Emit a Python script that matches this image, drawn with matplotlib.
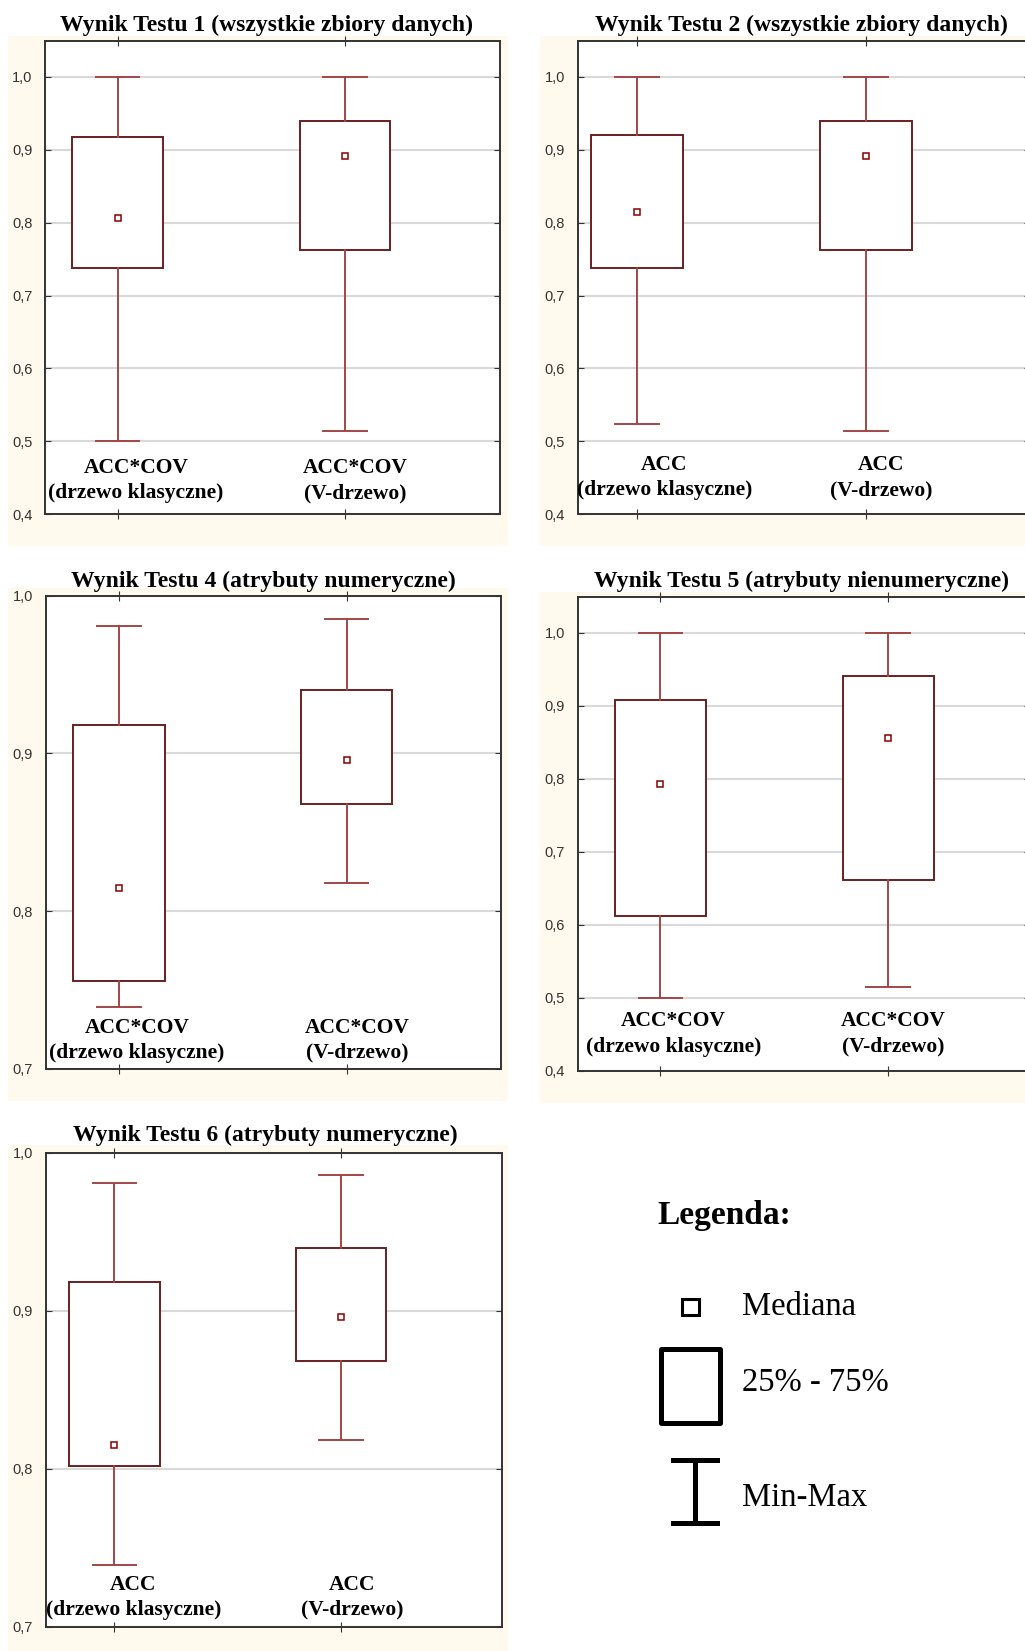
import matplotlib
matplotlib.use("Agg")
import matplotlib.pyplot as plt
from matplotlib.patches import Rectangle

# --- data (min, q1, median, q3, max per category) ---
titles = [
    "Wynik Testu 1 (wszystkie zbiory danych)",
    "Wynik Testu 2 (wszystkie zbiory danych)",
    "Wynik Testu 4 (atrybuty numeryczne)",
    "Wynik Testu 5 (atrybuty nienumeryczne)",
    "Wynik Testu 6 (atrybuty numeryczne)",
]
cats_accov = ["ACC*COV\n(drzewo klasyczne)", "ACC*COV\n(V-drzewo)"]
cats_acc = ["ACC\n(drzewo klasyczne)", "ACC\n(V-drzewo)"]

t1_min = [0.500, 0.514]
t1_q1 = [0.738, 0.762]
t1_med = [0.806, 0.891]
t1_q3 = [0.917, 0.939]
t1_max = [1.000, 1.000]

t2_min = [0.524, 0.514]
t2_q1 = [0.738, 0.762]
t2_med = [0.814, 0.891]
t2_q3 = [0.920, 0.939]
t2_max = [1.000, 1.000]

t4_min = [0.739, 0.818]
t4_q1 = [0.756, 0.868]
t4_med = [0.815, 0.896]
t4_q3 = [0.918, 0.940]
t4_max = [0.981, 0.985]

t5_min = [0.500, 0.514]
t5_q1 = [0.612, 0.661]
t5_med = [0.793, 0.855]
t5_q3 = [0.907, 0.941]
t5_max = [1.000, 1.000]

t6_min = [0.739, 0.818]
t6_q1 = [0.802, 0.868]
t6_med = [0.815, 0.896]
t6_q3 = [0.918, 0.940]
t6_max = [0.981, 0.986]

ticks_wide = [0.4, 0.5, 0.6, 0.7, 0.8, 0.9, 1.0]
ticks_wide_lab = ["0,4", "0,5", "0,6", "0,7", "0,8", "0,9", "1,0"]
ticks_narrow = [0.7, 0.8, 0.9, 1.0]
ticks_narrow_lab = ["0,7", "0,8", "0,9", "1,0"]

legend_labels = ["Mediana", "25% - 75%", "Min-Max"]

# --- styling ---
W, H = 1025, 1651
BOX = "#6a1f1f"
WHISK = "#a34646"
MED = "#8b0000"
CREAM = "#fff9ee"
SERIF = "Liberation Serif"
SANS = "Liberation Sans"

fig = plt.figure(figsize=(W / 100, H / 100), dpi=100)

# background layer in pixel coordinates
bg = fig.add_axes([0, 0, 1, 1], zorder=-1)
bg.set_xlim(0, W)
bg.set_ylim(H, 0)
bg.axis("off")


def px_axes(left, top, right, bottom):
    return fig.add_axes([left / W, 1 - bottom / H, (right - left) / W, (bottom - top) / H])


panels = [
    dict(d=(t1_min, t1_q1, t1_med, t1_q3, t1_max), cats=cats_accov, ticks=ticks_wide, tl=ticks_wide_lab,
         ylim=(0.4, 1.049), xlim=(0.68, 2.682), box=(45, 41, 500, 514.3), cream=(8, 35.7, 508, 546.4),
         title=(266, 31.4), dx=(18, 10), dy=11),
    dict(d=(t2_min, t2_q1, t2_med, t2_q3, t2_max), cats=cats_acc, ticks=ticks_wide, tl=ticks_wide_lab,
         ylim=(0.4, 1.049), xlim=(0.74, 2.715), box=(577.7, 41, 1030, 514.3), cream=(540, 35.7, 1030, 546.4),
         title=(801, 31.4), dx=(27, 15), dy=14),
    dict(d=(t4_min, t4_q1, t4_med, t4_q3, t4_max), cats=cats_accov, ticks=ticks_narrow, tl=ticks_narrow_lab,
         ylim=(0.7, 1.0), xlim=(0.678, 2.678), box=(45.7, 595.7, 501, 1068.9), cream=(8, 587.9, 508, 1101),
         title=(263, 586.8), dx=(18, 11), dy=6),
    dict(d=(t5_min, t5_q1, t5_med, t5_q3, t5_max), cats=cats_accov, ticks=ticks_wide, tl=ticks_wide_lab,
         ylim=(0.4, 1.049), xlim=(0.637, 2.623), box=(577.7, 596.8, 1030, 1070.7), cream=(540, 592, 1030, 1103),
         title=(802, 586.8), dx=(13, 5), dy=14),
    dict(d=(t6_min, t6_q1, t6_med, t6_q3, t6_max), cats=cats_acc, ticks=ticks_narrow, tl=ticks_narrow_lab,
         ylim=(0.7, 1.0), xlim=(0.697, 2.709), box=(45.7, 1152.8, 501.7, 1626.9), cream=(8, 1145.4, 508, 1651),
         title=(265, 1141), dx=(19, 11), dy=7),
]

for i, p in enumerate(panels):
    cx0, cy0, cx1, cy1 = p["cream"]
    bg.add_patch(Rectangle((cx0, cy0), cx1 - cx0, cy1 - cy0, facecolor=CREAM, edgecolor="none"))
    bg.text(p["title"][0], p["title"][1], titles[i], ha="center", va="baseline",
            fontsize=17, fontweight="bold", family=SERIF, color="black")

    ax = px_axes(*p["box"])
    mins, q1s, meds, q3s, maxs = p["d"]
    stats = []
    for k in range(2):
        stats.append(dict(whislo=mins[k], q1=q1s[k], med=meds[k], q3=q3s[k],
                          whishi=maxs[k], mean=meds[k], fliers=[]))
    ax.bxp(stats, positions=[1, 2], widths=0.4, capwidths=0.19, patch_artist=True,
           showmeans=True, meanline=False, showfliers=False,
           boxprops=dict(facecolor="white", edgecolor=BOX, linewidth=1.4),
           whiskerprops=dict(color=WHISK, linewidth=1.4),
           capprops=dict(color=WHISK, linewidth=1.4),
           medianprops=dict(linewidth=0),
           meanprops=dict(marker="s", markersize=5, markerfacecolor="white",
                          markeredgecolor=MED, markeredgewidth=1.1))

    ax.set_xlim(*p["xlim"])
    ax.set_ylim(*p["ylim"])
    ax.set_yticks(p["ticks"])
    ax.set_yticklabels(p["tl"], family=SANS, fontsize=10.5, color="#333333")
    ax.set_xticks([1, 2])
    ax.set_xticklabels([])
    ax.tick_params(axis="y", direction="in", length=4, left=True, right=True, pad=9, color="#333333")
    ax.tick_params(axis="x", direction="inout", length=7, top=True, bottom=True, color="#333333")
    ax.yaxis.grid(True, color="#d9d9d9", linewidth=1.5)
    ax.set_axisbelow(True)
    for s in ax.spines.values():
        s.set_color("#333333")
        s.set_linewidth(1.4)

    for k in range(2):
        ax.annotate(p["cats"][k], xy=(k + 1, 0), xycoords=("data", "axes fraction"),
                    xytext=(p["dx"][k], p["dy"]), textcoords="offset pixels",
                    ha="center", va="bottom", multialignment="center",
                    fontsize=15.5, fontweight="bold", family=SERIF, color="black", linespacing=1.35)

# --- legend block (drawn in pixel coordinates) ---
bg.text(657, 1224, "Legenda:", ha="left", va="baseline", fontsize=24, fontweight="bold", family=SERIF)
bg.add_patch(Rectangle((682, 1299), 17, 16, facecolor="white", edgecolor="black", linewidth=2.2))
bg.add_patch(Rectangle((661, 1349), 59, 74, facecolor="white", edgecolor="black", linewidth=3.6,
                       joinstyle="round"))
bg.plot([695, 695], [1460, 1523], color="black", linewidth=3.6)
bg.plot([673, 717], [1460, 1460], color="black", linewidth=3.6)
bg.plot([673, 717], [1523, 1523], color="black", linewidth=3.6)
for lab, yb in zip(legend_labels, [1315, 1391, 1506]):
    bg.text(742, yb, lab, ha="left", va="baseline", fontsize=23.5, family=SERIF)

fig.savefig("out.png", dpi=100, facecolor="white")
